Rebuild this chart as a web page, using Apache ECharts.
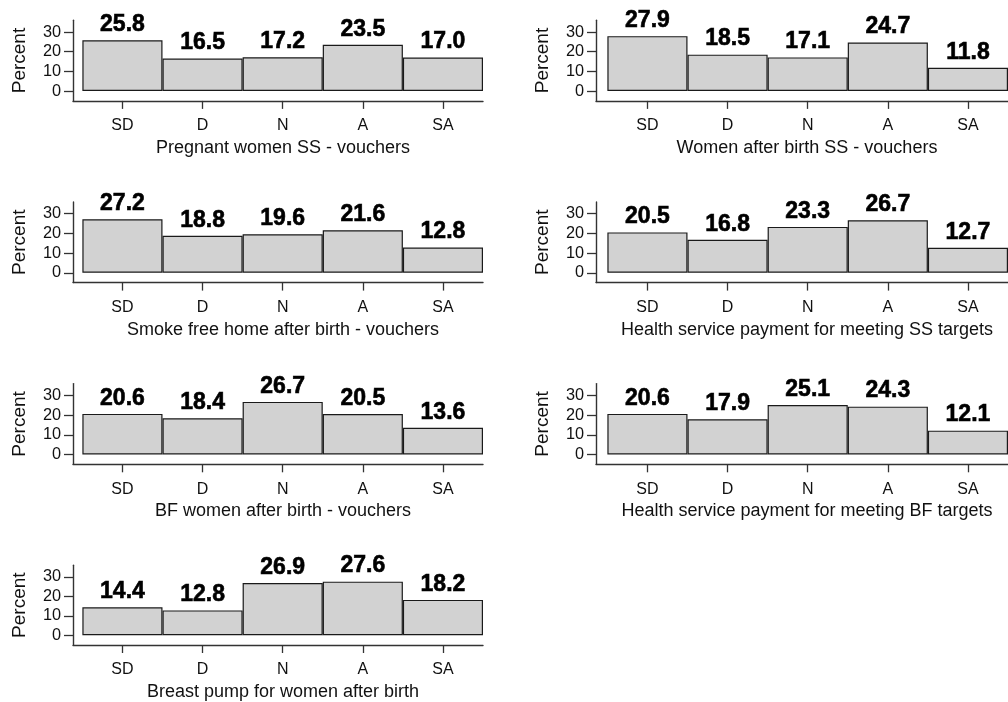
<!DOCTYPE html>
<html>
<head>
<meta charset="utf-8">
<script src="https://cdn.jsdelivr.net/npm/echarts@6/dist/echarts.min.js"></script>
<style>
  html, body { margin: 0; padding: 0; background: #fff; }
  #chart { width: 1008px; height: 702px; }
</style>
</head>
<body>
<div id="chart"></div>
<script>
// Response categories (strongly disagree ... strongly agree)
const categories = ['SD', 'D', 'N', 'A', 'SA'];
const yTicks = [0, 10, 20, 30];

// Percent of respondents per category, one array per question
const pregnantWomenSS   = [25.8, 16.5, 17.2, 23.5, 17.0];
const womenAfterBirthSS = [27.9, 18.5, 17.1, 24.7, 11.8];
const smokeFreeHome     = [27.2, 18.8, 19.6, 21.6, 12.8];
const paymentSSTargets  = [20.5, 16.8, 23.3, 26.7, 12.7];
const bfWomenAfterBirth = [20.6, 18.4, 26.7, 20.5, 13.6];
const paymentBFTargets  = [20.6, 17.9, 25.1, 24.3, 12.1];
const breastPump        = [14.4, 12.8, 26.9, 27.6, 18.2];

const panelTitles = [
  'Pregnant women SS - vouchers',
  'Women after birth SS - vouchers',
  'Smoke free home after birth - vouchers',
  'Health service payment for meeting SS targets',
  'BF women after birth - vouchers',
  'Health service payment for meeting BF targets',
  'Breast pump for women after birth'
];
const panelValues = [
  pregnantWomenSS, womenAfterBirthSS, smokeFreeHome, paymentSSTargets,
  bfWomenAfterBirth, paymentBFTargets, breastPump
];

const FONT = '"Liberation Sans", Arial, Helvetica, sans-serif';
const TEXT = '#111';
const AXIS = '#333';

const grids = [], xAxes = [], yAxes = [], series = [];

panelValues.forEach(function (vals, i) {
  const row = Math.floor(i / 2), col = i % 2;
  const left = col === 0 ? 73 : 596;
  const width = col === 0 ? 410 : 412;
  const xMin = col === 0 ? -0.617 : -0.642;
  grids.push({ left: left, top: 20.2 + row * 181.7, width: width, height: 80.7 });

  xAxes.push({
    gridIndex: i, type: 'value', min: xMin, max: 4.5,
    name: panelTitles[i], nameLocation: 'middle', nameGap: 38,
    nameTextStyle: { fontFamily: FONT, fontSize: 18, color: TEXT,
      padding: [0, 0, 0, 10] },
    axisLine: { onZero: false, lineStyle: { color: AXIS, width: 1.4 } },
    axisTick: { customValues: [0, 1, 2, 3, 4], length: 8, lineStyle: { color: AXIS, width: 1.3 } },
    axisLabel: { customValues: [0, 1, 2, 3, 4], margin: 17,
      fontFamily: FONT, fontSize: 16, color: TEXT,
      formatter: function (v) { return categories[Math.round(v)]; } },
    splitLine: { show: false }
  });

  yAxes.push({
    gridIndex: i, type: 'value', min: -5, max: 36,
    name: 'Percent', nameLocation: 'middle', nameGap: 44,
    nameTextStyle: { fontFamily: FONT, fontSize: 19, color: TEXT },
    axisLine: { onZero: false, lineStyle: { color: AXIS, width: 1.4 } },
    axisTick: { customValues: yTicks, length: 9, lineStyle: { color: AXIS, width: 1.3 } },
    axisLabel: { customValues: yTicks, margin: 12,
      fontFamily: FONT, fontSize: 16.3, color: TEXT },
    splitLine: { show: false }
  });

  series.push({
    type: 'bar', xAxisIndex: i, yAxisIndex: i,
    barWidth: '100%',
    data: vals.map(function (v, k) { return [k, v]; }),
    itemStyle: { color: '#d2d2d2', borderColor: '#1a1a1a', borderWidth: 1.2 },
    label: {
      show: true, position: 'top', distance: 4,
      fontFamily: FONT, fontSize: 23, fontWeight: 'bold', color: '#000',
      textBorderColor: '#000', textBorderWidth: 0.6,
      formatter: function (p) { return p.value[1].toFixed(1); }
    },
    emphasis: { disabled: true },
    animation: false
  });
});

const chart = echarts.init(document.getElementById('chart'), null, { renderer: 'canvas' });
chart.setOption({
  animation: false,
  backgroundColor: '#fff',
  grid: grids,
  xAxis: xAxes,
  yAxis: yAxes,
  series: series
});
</script>
</body>
</html>
